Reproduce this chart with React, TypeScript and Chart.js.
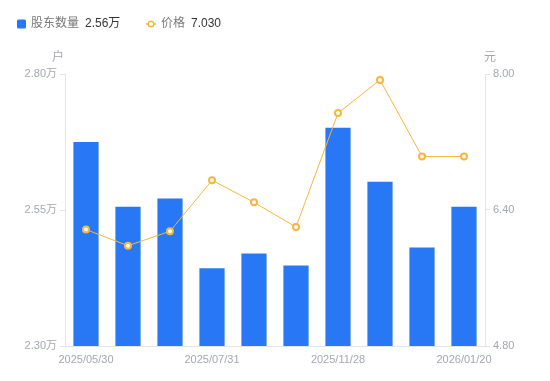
import React, { useEffect, useRef } from "react";
import { Chart, registerables } from "chart.js";

Chart.register(...registerables);

const categories = [
  "2025/05/30", "2025/06/20", "2025/06/30", "2025/07/31", "2025/09/30",
  "2025/10/31", "2025/11/28", "2025/12/19", "2025/12/31", "2026/01/20",
];
const holders = [2.675, 2.556, 2.571, 2.443, 2.470, 2.448, 2.701, 2.602, 2.481, 2.556];
const prices = [6.17, 5.98, 6.15, 6.75, 6.49, 6.20, 7.54, 7.93, 7.03, 7.03];
const leftTicks = [2.3, 2.55, 2.8];
const rightTicks = [4.8, 6.4, 8.0];

const FONT = "'Liberation Sans', 'Noto Sans CJK SC', sans-serif";
const BLUE = "#2878F5";
const ORANGE = "#F8B540";
const TICK = "#A4A7B3";
const BORDER = "#E3E5EA";

const overlay = {
  id: "overlay",
  afterDraw(chart: any) {
    const ctx = chart.ctx;
    const ys = chart.scales.y;
    const yr = chart.scales.y1;
    ctx.save();
    ctx.font = `12px ${FONT}`;
    ctx.fillStyle = TICK;
    ctx.textAlign = "center";
    ctx.textBaseline = "middle";
    ctx.fillText("户", ys.right - 7, ys.top - 16);
    ctx.fillText("元", yr.left + 5, yr.top - 16);
    ctx.textAlign = "left";
    ctx.font = `12px ${FONT}`;
    const ly = 24;
    ctx.fillStyle = BLUE;
    ctx.beginPath();
    ctx.roundRect(17, ly - 4.5, 9, 9, 1.5);
    ctx.fill();
    ctx.fillStyle = "#777";
    ctx.fillText("股东数量", 31, ly);
    let w = ctx.measureText("股东数量").width;
    ctx.fillStyle = "#333";
    ctx.fillText(`${holders[holders.length - 1].toFixed(2)}万`, 31 + w + 6, ly);
    const lx = 146;
    ctx.strokeStyle = ORANGE;
    ctx.lineWidth = 1.5;
    ctx.beginPath();
    ctx.moveTo(lx, ly);
    ctx.lineTo(lx + 10, ly);
    ctx.stroke();
    ctx.fillStyle = "#fff";
    ctx.beginPath();
    ctx.arc(lx + 5, ly, 2.8, 0, Math.PI * 2);
    ctx.fill();
    ctx.stroke();
    ctx.fillStyle = "#777";
    ctx.fillText("价格", 161, ly);
    w = ctx.measureText("价格").width;
    ctx.fillStyle = "#333";
    ctx.fillText(prices[prices.length - 1].toFixed(3), 161 + w + 6, ly);
    ctx.restore();
  },
};

export default function App() {
  const ref = useRef<HTMLCanvasElement>(null);
  useEffect(() => {
    document.body.style.margin = "0";
    const chart = new Chart(ref.current!, {
      type: "bar",
      data: {
        labels: categories,
        datasets: [
          {
            type: "line",
            label: "价格",
            data: prices,
            yAxisID: "y1",
            borderColor: ORANGE,
            borderWidth: 1,
            pointRadius: 3,
            pointBorderWidth: 2,
            pointBackgroundColor: "#fff",
            pointBorderColor: ORANGE,
            tension: 0,
            order: 0,
          } as any,
          {
            type: "bar",
            label: "股东数量",
            data: holders,
            yAxisID: "y",
            backgroundColor: BLUE,
            categoryPercentage: 0.6,
            barPercentage: 1,
            order: 1,
          },
        ],
      },
      options: {
        animation: false,
        responsive: false,
        layout: { padding: { top: 74, left: 0, right: 0, bottom: 0 } },
        plugins: { legend: { display: false }, tooltip: { enabled: false } },
        scales: {
          x: {
            grid: { display: false, drawTicks: false },
            border: { color: BORDER },
            afterFit(s: any) { s.height = 35; },
            ticks: {
              autoSkip: false,
              maxRotation: 0,
              padding: 7,
              color: TICK,
              font: { size: 11, family: FONT },
              callback(_v: any, i: number) { return i % 3 === 0 ? categories[i] : ""; },
            },
          },
          y: {
            position: "left",
            min: 2.3,
            max: 2.8,
            afterFit(s: any) { s.width = 65; },
            afterBuildTicks(s: any) { s.ticks = leftTicks.map((v) => ({ value: v })); },
            grid: { drawOnChartArea: false, drawTicks: true, tickLength: 5, color: BORDER },
            border: { color: BORDER },
            ticks: {
              padding: 3,
              color: TICK,
              font: { size: 11, family: FONT },
              callback(v: any) { return `${Number(v).toFixed(2)}万`; },
            },
          },
          y1: {
            position: "right",
            min: 4.8,
            max: 8.0,
            afterFit(s: any) { s.width = 65; },
            afterBuildTicks(s: any) { s.ticks = rightTicks.map((v) => ({ value: v })); },
            grid: { drawOnChartArea: false, drawTicks: true, tickLength: 5, color: BORDER },
            border: { color: BORDER },
            ticks: {
              padding: 3,
              color: TICK,
              font: { size: 11, family: FONT },
              callback(v: any) { return Number(v).toFixed(2); },
            },
          },
        },
      },
      plugins: [overlay],
    });
    return () => chart.destroy();
  }, []);
  return <canvas ref={ref} width={550} height={381} style={{ display: "block" }} />;
}
